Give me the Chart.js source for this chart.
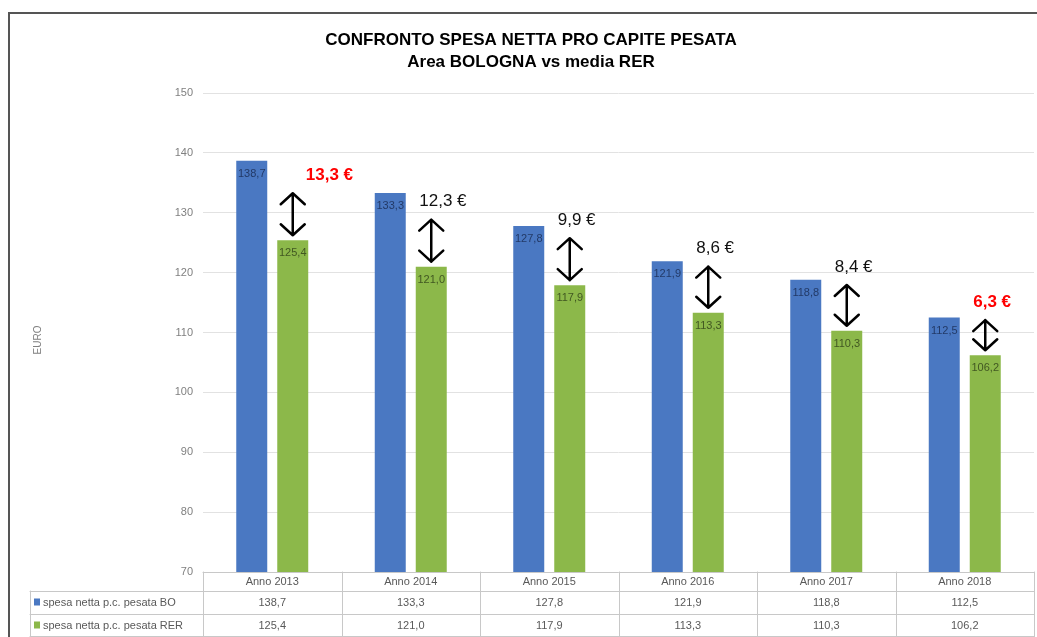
<!DOCTYPE html>
<html>
<head>
<meta charset="utf-8">
<script src="https://cdn.jsdelivr.net/npm/chart.js@4.4.1/dist/chart.umd.min.js"></script>
<style>
  html, body { margin: 0; padding: 0; background: #fff; overflow: hidden; }
  #wrap { width: 1037px; height: 637px; position: relative; }
</style>
</head>
<body>
<div id="wrap"><canvas id="spesaChart"></canvas></div>
<script>
const anni = ['Anno 2013', 'Anno 2014', 'Anno 2015', 'Anno 2016', 'Anno 2017', 'Anno 2018'];
const spesaBO = [138.7, 133.3, 127.8, 121.9, 118.8, 112.5];
const spesaRER = [125.4, 121.0, 117.9, 113.3, 110.3, 106.2];
const differenze = ['13,3 €', '12,3 €', '9,9 €', '8,6 €', '8,4 €', '6,3 €'];
const nomiSerie = ['spesa netta p.c. pesata BO', 'spesa netta p.c. pesata RER'];

const BLUE = '#4a78c2';
const GREEN = '#8cb84a';
const FONT = "'Liberation Sans', Arial, sans-serif";

const fmt = v => v.toFixed(1).replace('.', ',');

// frame, title, y title, value labels, arrows and the data table
const extras = {
  id: 'extras',
  afterDraw(chart) {
    const { ctx, chartArea: ca, scales: { x } } = chart;
    ctx.save();

    // outer frame (left + top only, the rest is cut off)
    ctx.strokeStyle = '#555';
    ctx.lineWidth = 2;
    ctx.beginPath();
    ctx.moveTo(9, 637);
    ctx.lineTo(9, 13);
    ctx.lineTo(1037, 13);
    ctx.stroke();

    // title
    ctx.fillStyle = '#000';
    ctx.textAlign = 'center';
    ctx.textBaseline = 'middle';
    ctx.font = 'bold 17px ' + FONT;
    ctx.fillText('CONFRONTO SPESA NETTA PRO CAPITE PESATA', 531, 40);
    ctx.fillText('Area BOLOGNA vs media RER', 531, 62);

    // y axis title
    ctx.save();
    ctx.translate(38, 340);
    ctx.rotate(-Math.PI / 2);
    ctx.fillStyle = '#808080';
    ctx.font = '10px ' + FONT;
    ctx.fillText('EURO', 0, 0);
    ctx.restore();

    // value labels inside bar tops
    ctx.font = '11px ' + FONT;
    [0, 1].forEach(d => {
      chart.getDatasetMeta(d).data.forEach((bar, i) => {
        const v = chart.data.datasets[d].data[i];
        ctx.fillStyle = d === 0 ? 'rgba(20,35,70,0.75)' : 'rgba(40,55,20,0.75)';
        ctx.fillText(fmt(v), bar.x, bar.y + 13);
      });
    });

    // difference arrows and labels
    const boBars = chart.getDatasetMeta(0).data;
    const rerBars = chart.getDatasetMeta(1).data;
    rerBars.forEach((bar, i) => {
      const ax = bar.x;
      const gap = bar.y - boBars[i].y;
      const len = Math.min(42, gap * 0.8);
      const bottom = bar.y - 5;
      const top = bottom - len;
      ctx.strokeStyle = '#000';
      ctx.lineWidth = 2.5;
      ctx.lineCap = 'round';
      ctx.lineJoin = 'round';
      ctx.beginPath();
      ctx.moveTo(ax, top);
      ctx.lineTo(ax, bottom);
      ctx.moveTo(ax - 12, top + 11);
      ctx.lineTo(ax, top);
      ctx.lineTo(ax + 12, top + 11);
      ctx.moveTo(ax - 12, bottom - 11);
      ctx.lineTo(ax, bottom);
      ctx.lineTo(ax + 12, bottom - 11);
      ctx.stroke();

      const hi = i === 0 || i === rerBars.length - 1;
      ctx.fillStyle = hi ? '#ff0000' : '#111';
      ctx.font = (hi ? 'bold ' : '') + '17px ' + FONT;
      ctx.textAlign = 'left';
      // the first label sits to the right of its arrow
      const tx = i === 0 ? ax + 13 : ax - 12;
      ctx.fillText(differenze[i], tx, top - 18);
    });

    // data table
    const catW = (ca.right - ca.left) / anni.length;
    const r0 = ca.bottom, r1 = r0 + 19, r2 = r1 + 23, r3 = 637;
    const legL = 30;
    ctx.strokeStyle = '#c8c8c8';
    ctx.lineWidth = 1;
    ctx.beginPath();
    ctx.moveTo(ca.left, r0 + 0.5); ctx.lineTo(ca.right, r0 + 0.5);
    ctx.moveTo(legL, r1 + 0.5); ctx.lineTo(ca.right, r1 + 0.5);
    ctx.moveTo(legL, r2 + 0.5); ctx.lineTo(ca.right, r2 + 0.5);
    ctx.moveTo(legL, r3 - 0.5); ctx.lineTo(ca.right, r3 - 0.5);
    ctx.moveTo(legL + 0.5, r1); ctx.lineTo(legL + 0.5, r3);
    for (let k = 0; k <= anni.length; k++) {
      const lx = Math.round(ca.left + k * catW) + 0.5;
      ctx.moveTo(lx, r0); ctx.lineTo(lx, r3);
    }
    ctx.stroke();

    ctx.textAlign = 'center';
    ctx.font = '11px ' + FONT;
    ctx.fillStyle = '#595959';
    anni.forEach((a, i) => {
      const cx = x.getPixelForValue(i);
      ctx.fillText(a, cx, (r0 + r1) / 2);
      ctx.fillText(fmt(spesaBO[i]), cx, (r1 + r2) / 2);
      ctx.fillText(fmt(spesaRER[i]), cx, (r2 + r3) / 2);
    });

    // legend keys
    [[r1, r2, BLUE], [r2, r3, GREEN]].forEach(([a, b, c], k) => {
      const my = (a + b) / 2;
      ctx.fillStyle = c;
      ctx.fillRect(legL + 4, my - 4, 6, 7);
      ctx.fillStyle = '#595959';
      ctx.textAlign = 'left';
      ctx.fillText(nomiSerie[k], legL + 13, my);
    });

    ctx.restore();
  }
};

new Chart(document.getElementById('spesaChart'), {
  type: 'bar',
  data: {
    labels: anni,
    datasets: [
      { label: nomiSerie[0], data: spesaBO, backgroundColor: BLUE },
      { label: nomiSerie[1], data: spesaRER, backgroundColor: GREEN },
    ],
  },
  options: {
    responsive: true,
    maintainAspectRatio: false,
    animation: false,
    categoryPercentage: 0.592,
    barPercentage: 0.756,
    layout: { padding: { top: 93, right: 3, bottom: 65, left: 0 } },
    plugins: {
      legend: { display: false },
      title: { display: false },
      tooltip: { enabled: false },
    },
    scales: {
      x: {
        ticks: { display: false },
        grid: { display: false },
        border: { display: false },
        afterFit: s => { s.height = 0; },
      },
      y: {
        min: 70,
        max: 150,
        ticks: {
          stepSize: 10,
          padding: 10,
          color: '#808080',
          font: { family: FONT, size: 11 },
        },
        grid: { color: '#e2e2e2', drawTicks: false },
        border: { display: false },
        afterFit: s => { s.width = 203; },
      },
    },
  },
  plugins: [extras],
});
</script>
</body>
</html>
